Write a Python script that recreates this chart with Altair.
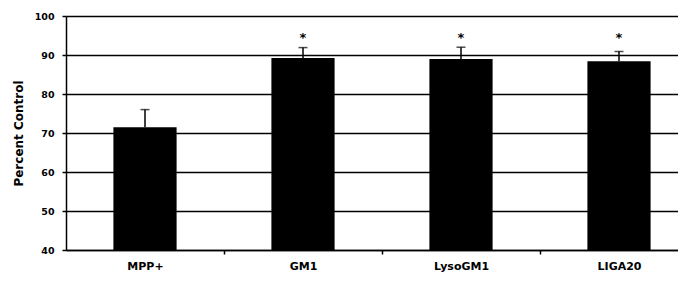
import altair as alt
import pandas as pd

categories = ["MPP+", "GM1", "LysoGM1", "LIGA20"]
values = [71.5, 89.2, 89.0, 88.4]
errors = [4.5, 2.7, 3.0, 2.5]
stars = ["", "*", "*", "*"]
star_y = [None, 95.5, 95.5, 95.5]

df = pd.DataFrame({
    "cat": categories,
    "val": values,
    "hi": [v + e for v, e in zip(values, errors)],
    "lo": [40] * len(categories),
    "star": stars,
    "sy": star_y,
})

FONT = "DejaVu Sans"

x_axis = alt.Axis(labelAngle=0, labelFont=FONT, labelFontWeight="bold",
                  labelFontSize=11, labelColor="black", labelPadding=6,
                  tickOffset=79, labelOffset=-79,
                  tickColor="black", tickSize=4, tickWidth=1.5,
                  domainColor="black", domainWidth=1.5, grid=False)
x_scale = alt.Scale(range=[0, 632], paddingInner=0.6, paddingOuter=0.3)
y_scale = alt.Scale(domain=[40, 100], nice=False, zero=False)
y_axis = alt.Axis(values=[40, 50, 60, 70, 80, 90, 100], labelOverlap=False,
                  labelFont=FONT, labelFontWeight="bold", labelFontSize=9.5,
                  labelColor="black", labelPadding=8,
                  titleFont=FONT, titleFontWeight="bold", titleFontSize=12,
                  titleColor="black", titlePadding=9,
                  tickColor="black", tickSize=4, tickWidth=1.5,
                  domainColor="black", domainWidth=1.5,
                  grid=True, gridColor="black", gridWidth=1.5, gridOpacity=1)

def X():
    return alt.X("cat:N", sort=categories, title=None, scale=x_scale, axis=x_axis)

def Y(field):
    return alt.Y(field, scale=y_scale, title="Percent Control", axis=y_axis)

base = alt.Chart(df)

bars = base.mark_bar(color="black").encode(x=X(), y=Y("val:Q"), y2="lo:Q")

err = base.mark_rule(color="black", strokeWidth=1.5).encode(x=X(), y=Y("val:Q"), y2="hi:Q")

caps = base.mark_tick(color="black", thickness=1.5, size=9).encode(x=X(), y=Y("hi:Q"))

star_text = base.transform_filter("datum.star != ''").mark_text(
    font=FONT, fontWeight="bold", fontSize=13, color="black", baseline="middle", dy=4
).encode(x=X(), y=Y("sy:Q"), text="star:N")

chart = alt.layer(bars, err, caps, star_text).properties(
    width=612, height=234,
    autosize=alt.AutoSizeParams(type="none"),
    padding={"left": 58, "top": 8, "right": 0, "bottom": 23},
).configure_view(stroke=None).configure(background="white")

chart.save("out.html", embed_options={"renderer": "svg", "actions": False})
